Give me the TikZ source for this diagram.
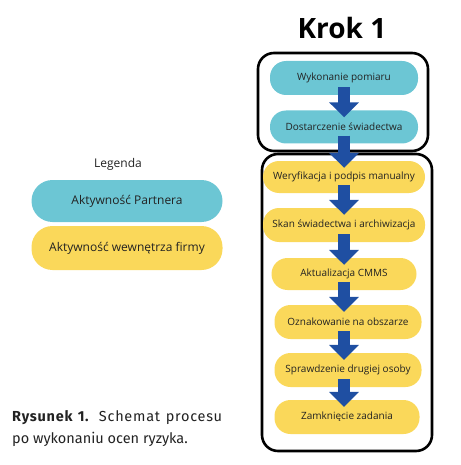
\documentclass[tikz,border=0pt]{standalone}
\usepackage{fontspec}
\setmainfont{Open Sans}
\newfontfamily\capfont{Fira Sans}
\newfontfamily\capfontwide[LetterSpace=5]{Fira Sans}
\usetikzlibrary{arrows.meta}
\definecolor{pblue}{HTML}{6CC6D4}
\definecolor{pyellow}{HTML}{FAD85A}
\definecolor{ablue}{HTML}{1F4FA2}
\definecolor{ptext}{HTML}{222222}
\begin{document}
\begin{tikzpicture}[x=1pt,y=-1pt,
  pill/.style={rounded corners=16pt, inner sep=0pt, text=ptext, font=\fontsize{10}{12}\selectfont},
  bluepill/.style={pill, fill=pblue},
  yellowpill/.style={pill, fill=pyellow},
  legpill/.style={rounded corners=21pt, inner sep=0pt, text=ptext, font=\fontsize{12}{14}\selectfont, minimum width=191pt},
  group/.style={draw=black, line width=2.6pt, rounded corners=16pt},
  flow/.style={draw=ablue, line width=12pt, line cap=butt, -{Triangle[width=29pt,length=15pt]}},
  captext/.style={anchor=base west, inner sep=0pt, font=\capfont\fontsize{14.5}{17}\selectfont, text=ptext}
]
\useasboundingbox (0,0) rectangle (460,465);
% title
\node[font=\fontsize{28}{30}\selectfont\bfseries, text=black] (title) at (342,28) {Krok 1};
% groups
\draw[group] (258,53) rectangle (428,151);
\draw[group] (262,154) rectangle (432,451);
% process pills
\node[bluepill, minimum width=148pt, minimum height=34pt] (w1) at (344,78) {Wykonanie pomiaru};
\node[bluepill, minimum width=148pt, minimum height=33pt] (w2) at (344,127) {Dostarczenie świadectwa};
\node[yellowpill, minimum width=162pt, minimum height=32pt] (y1) at (344,177) {Weryfikacja i podpis manualny};
\node[yellowpill, minimum width=162pt, minimum height=34pt] (y2) at (344,225) {Skan świadectwa i archiwizacja};
\node[yellowpill, minimum width=145pt, minimum height=32pt] (y3) at (344,274) {Aktualizacja CMMS};
\node[yellowpill, minimum width=147pt, minimum height=34pt] (y4) at (348,322) {Oznakowanie na obszarze};
\node[yellowpill, minimum width=147pt, minimum height=34pt] (y5) at (348,370) {Sprawdzenie drugiej osoby};
\node[yellowpill, minimum width=145pt, minimum height=34pt] (y6) at (347,417) {Zamknięcie zadania};
% arrows
\coordinate (ax) at (344,0);
\draw[flow] ([yshift=8pt]ax |- w1.south) -- ([yshift=-7pt]ax |- w2.north);
\draw[flow] ([yshift=8pt]ax |- w2.south) -- ([yshift=-7pt]ax |- y1.north);
\draw[flow] ([yshift=8pt]ax |- y1.south) -- ([yshift=-7pt]ax |- y2.north);
\draw[flow] ([yshift=8pt]ax |- y2.south) -- ([yshift=-7pt]ax |- y3.north);
\draw[flow] ([yshift=8pt]ax |- y3.south) -- ([yshift=-7pt]ax |- y4.north);
\draw[flow] ([yshift=8pt]ax |- y4.south) -- ([yshift=-7pt]ax |- y5.north);
\draw[flow] ([yshift=8pt]ax |- y5.south) -- ([yshift=-7pt]ax |- y6.north);
% legend
\node[font=\fontsize{12}{14}\selectfont, text=ptext] (leg) at (118,164) {Legenda};
\node[legpill, fill=pblue, minimum height=42pt] (lb) at (127,201) {Aktywność Partnera};
\node[legpill, fill=pyellow, minimum height=44pt] (ly) at (127,248) {Aktywność wewnętrza firmy};
% caption
\node[captext] (cap1) at (12,421) {\capfontwide\fontsize{14.5}{17}\selectfont\makebox[210pt][s]{\textbf{Rysunek 1.} Schemat procesu}};
\node[captext] (cap2) at (12,443) {po wykonaniu ocen ryzyka.};
\end{tikzpicture}
\end{document}
